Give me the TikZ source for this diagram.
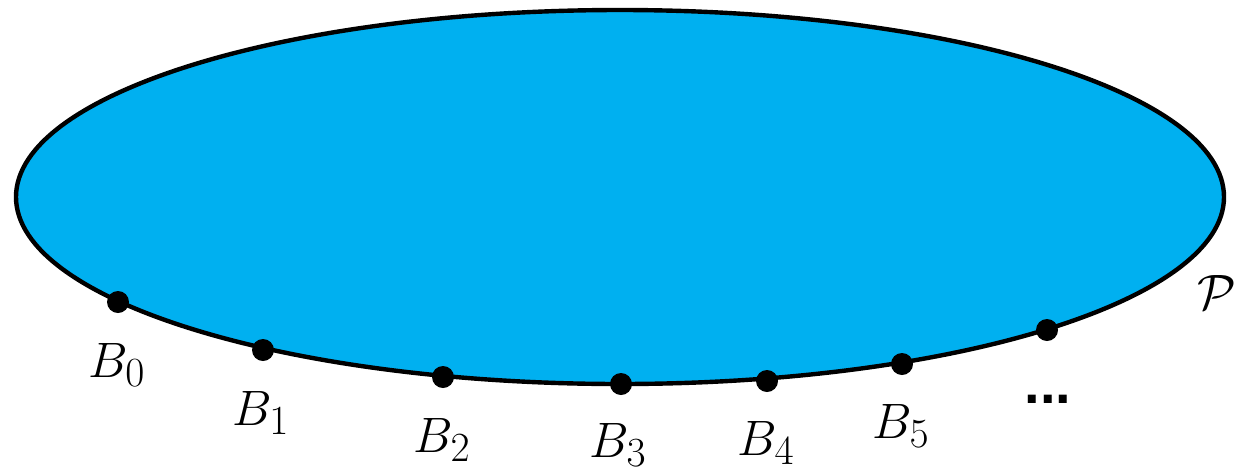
\documentclass[tikz,border=0pt]{standalone}
\usepackage{fontspec}
\newfontfamily\dotsfont{Liberation Sans}
\definecolor{pcyan}{RGB}{0,176,240}
\begin{document}
\begin{tikzpicture}[x=0.5pt,y=-0.5pt,
  region/.style={draw=black,line width=2.2pt,fill=pcyan},
  pt/.style={circle,fill=black,inner sep=0pt,minimum size=11pt},
  lbl/.style={anchor=base,inner sep=0pt,font=\fontsize{32}{38}\selectfont}]
\useasboundingbox (0,0) rectangle (1248,472);
\draw[region] (620,197) ellipse [x radius=604, y radius=187];
\node[pt] (b0) at (118,302) {};
\node[pt] (b1) at (263,350) {};
\node[pt] (b2) at (443,377) {};
\node[pt] (b3) at (621,384) {};
\node[pt] (b4) at (767,381) {};
\node[pt] (b5) at (902,364) {};
\node[pt] (b6) at (1047,330) {};
\node[lbl] (l0) at (117,377) {$B_0$};
\node[lbl] (l1) at (261,425) {$B_1$};
\node[lbl] (l2) at (442,452) {$B_2$};
\node[lbl] (l3) at (618,457) {$B_3$};
\node[lbl] (l4) at (766,455) {$B_4$};
\node[lbl] (l5) at (901,438) {$B_5$};
\node[lbl,font=\fontsize{36}{40}\selectfont] (lp) at (1217,309) {$\mathcal{P}$};
\node[anchor=base,inner sep=0pt,font=\dotsfont\bfseries\fontsize{28}{32}\selectfont] (ld) at (1048,403) {...};
\end{tikzpicture}
\end{document}
